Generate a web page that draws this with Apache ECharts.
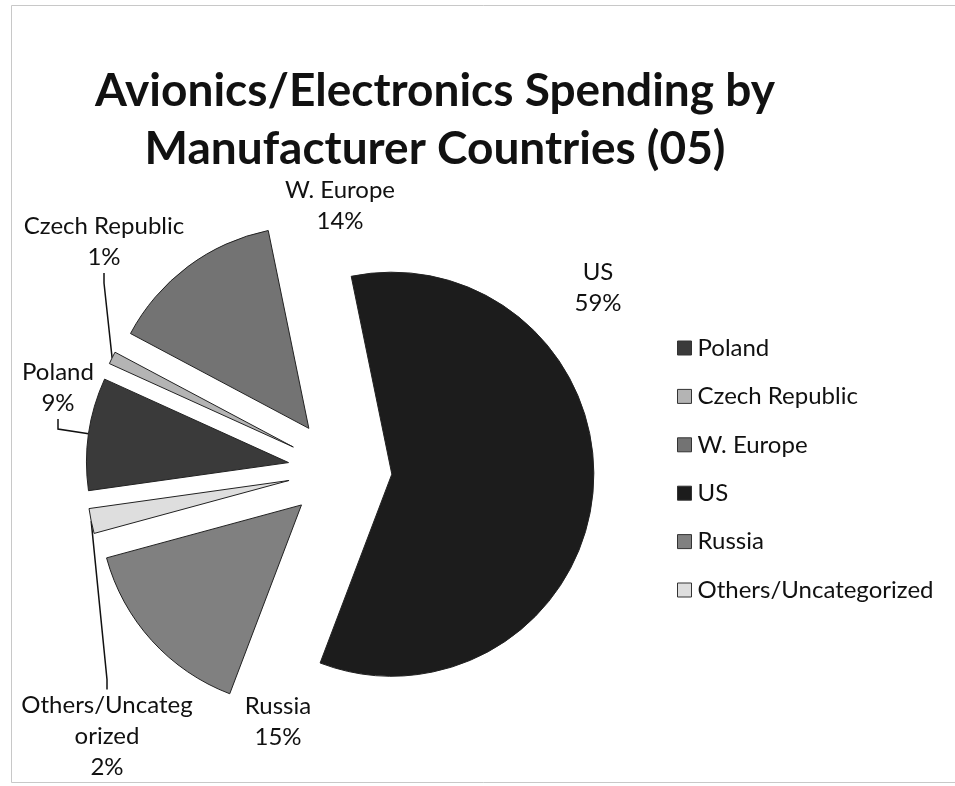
<!DOCTYPE html>
<html>
<head>
<meta charset="utf-8">
<script src="https://cdn.jsdelivr.net/npm/echarts@6/dist/echarts.min.js"></script>
<style>
html,body{margin:0;padding:0;background:#fff;}
#chart{width:955px;height:786px;}
</style>
</head>
<body>
<div id="chart"></div>
<script>
// ---- data ----
const categories = ['Poland', 'Czech Republic', 'W. Europe', 'US', 'Russia', 'Others/Uncategorized'];
const shares = [9, 1, 14, 59, 15, 2];
const sliceColors = ['#3a3a3a', '#b4b4b4', '#737373', '#1c1c1c', '#808080', '#dedede'];
const withLeader = [true, true, false, false, false, true];
const titleText = 'Avionics/Electronics Spending by\nManufacturer Countries (05)';

// label anchor positions (centre of label block), in px
const labelPos = {
  'Poland': [58, 388],
  'Czech Republic': [104, 242],
  'W. Europe': [340, 206],
  'US': [598, 288],
  'Russia': [278, 722],
  'Others/Uncategorized': [107, 736]
};

const FONT = 'Lato';
const CENTER = [340, 470];
const RADIUS = 202;
const EXPLODE = 52;
const START = 188;

function wrapName(name) {
  const max = 14;
  let out = [];
  for (let i = 0; i < name.length; i += max) out.push(name.slice(i, i + max));
  return out.join('\n');
}

const pieData = categories.map((c, i) => ({
  name: c,
  value: shares[i],
  selected: true,
  itemStyle: { color: sliceColors[i] }
}));

const labelData = categories.map((c, i) => ({
  name: c,
  value: shares[i],
  labelLine: { show: withLeader[i] }
}));

const chart = echarts.init(document.getElementById('chart'), null, { renderer: 'canvas' });
chart.setOption({
  animation: false,
  backgroundColor: '#ffffff',
  title: {
    text: titleText,
    left: 435,
    top: 62,
    textAlign: 'center',
    padding: 0,
    textStyle: {
      fontFamily: FONT,
      fontWeight: 'bold',
      fontSize: 46,
      lineHeight: 58,
      color: '#111'
    }
  },
  legend: {
    orient: 'vertical',
    left: 677,
    top: 336,
    padding: 0,
    itemWidth: 14,
    itemHeight: 14,
    itemGap: 24.4,
    icon: 'rect',
    data: categories,
    itemStyle: { borderColor: '#333', borderWidth: 1 },
    textStyle: { fontFamily: FONT, fontSize: 24, lineHeight: 24, color: '#111', padding: [0, 0, 0, 1] }
  },
  graphic: [{
    type: 'rect',
    shape: { x: 11.5, y: 5.5, width: 960, height: 777 },
    style: { fill: 'none', stroke: '#c8c8c8', lineWidth: 1 },
    silent: true
  }],
  series: [{
    type: 'pie',
    name: 'slices',
    center: CENTER,
    radius: RADIUS,
    startAngle: START,
    clockwise: true,
    selectedMode: 'multiple',
    selectedOffset: EXPLODE,
    itemStyle: { borderColor: '#222', borderWidth: 1 },
    select: { itemStyle: { borderColor: '#222', borderWidth: 1 } },
    emphasis: { disabled: true },
    label: { show: false },
    labelLine: { show: false },
    data: pieData
  }, {
    type: 'pie',
    name: 'labels',
    center: CENTER,
    radius: RADIUS + EXPLODE,
    startAngle: START,
    clockwise: true,
    silent: true,
    legendHoverLink: false,
    avoidLabelOverlap: false,
    itemStyle: { color: 'rgba(0,0,0,0)', borderWidth: 0 },
    emphasis: { disabled: true },
    label: {
      show: true,
      position: 'outside',
      fontFamily: FONT,
      fontSize: 24,
      lineHeight: 31,
      color: '#111',
      align: 'center',
      formatter: p => wrapName(p.name) + '\n' + Math.round(p.percent) + '%'
    },
    labelLine: {
      show: true,
      length: 10,
      length2: 10,
      lineStyle: { color: '#111', width: 1.5 }
    },
    labelLayout: function (params) {
      const name = categories[params.dataIndex];
      const p = labelPos[name];
      return { x: p[0], y: p[1], align: 'center', verticalAlign: 'middle' };
    },
    data: labelData
  }]
});
</script>
</body>
</html>
